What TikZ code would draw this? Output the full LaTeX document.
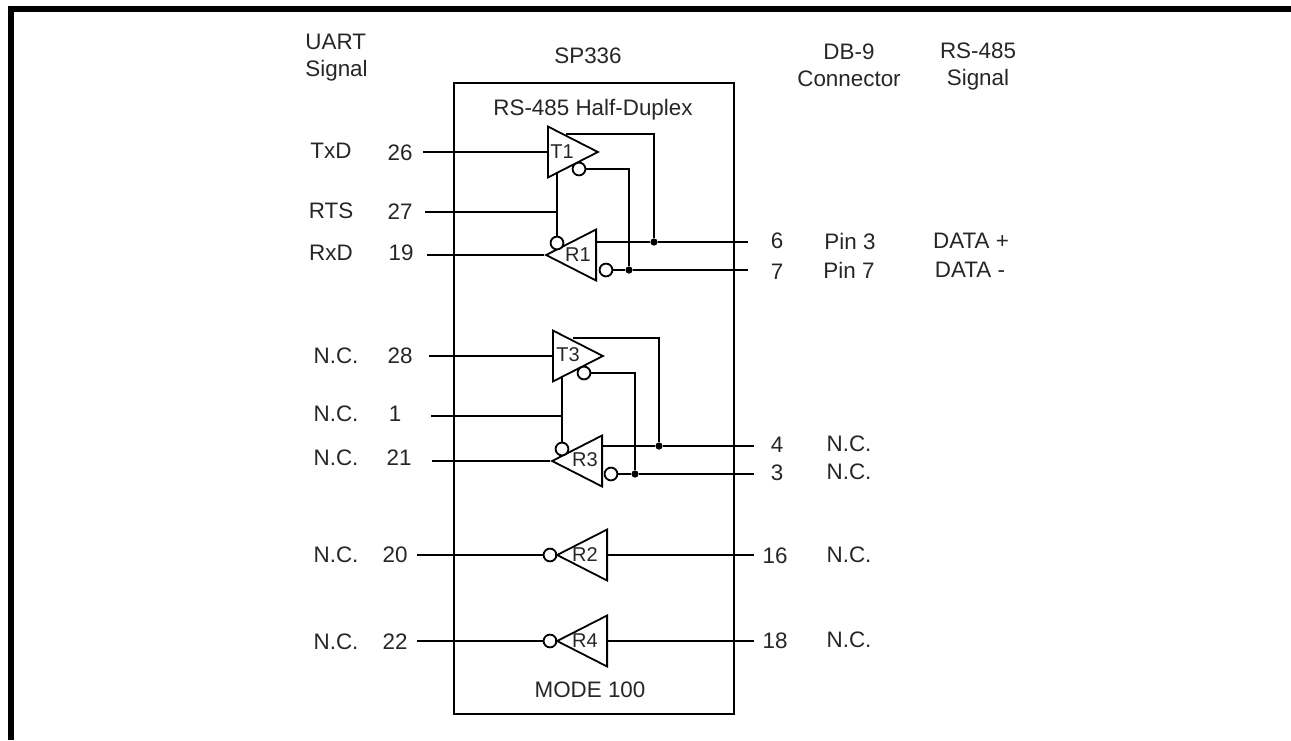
\documentclass[tikz,border=0pt]{standalone}
\usepackage{fontspec}
\setmainfont{Liberation Sans}
\usetikzlibrary{shapes.geometric}
\tikzset{
	lbl/.style = {inner sep = 0, text = black!85, font = \fontsize{11.2}{13.5}\selectfont, align = center},
	gatelbl/.style = {lbl, font = \fontsize{10}{12}\selectfont},
	wire/.style = {line width = 0.9pt},
	heavy/.style = {line width = 1.3pt},
	drvbase/.style = {draw, line width = 0.9pt, shape = isosceles triangle, isosceles triangle stretches,
		minimum width = 25.5pt, minimum height = 25pt, inner sep = 0, anchor = lower side},
	drvright/.style = {drvbase},
	drvleft/.style = {drvbase, shape border rotate = 180},
	bubble/.style = {draw, line width = 0.9pt, circle, fill = white, minimum size = 6.4pt, inner sep = 0},
	junction/.style = {circle, fill = black, minimum size = 3.6pt, inner sep = 0}
}
\begin{document}
\begin{tikzpicture}[x = 0.5pt, y = -0.5pt]
	%	page
	\useasboundingbox (0, 0) rectangle (1291, 740);
	\fill[black] (8, 6) rectangle (1291, 12);
	\fill[black] (8, 6) rectangle (14, 740);
	
	%	headings
	\node[lbl, align = left, anchor = west] (uart) at (305, 58) {UART\\Signal};
	\node[lbl] (sp) at (588, 56) {SP336};
	\node[lbl] (db) at (849, 65) {DB-9\\Connector};
	\node[lbl] (rs) at (978, 66) {RS-485\\Signal};
	
	%	chip
	\node[draw, wire, minimum width = 140pt, minimum height = 315.5pt, inner sep = 0] (chip) at (594, 398.5) {};
	\node[lbl] (half) at (593, 110) {RS-485 Half-Duplex};
	\node[lbl] (mode) at (590, 690) {MODE 100};
	
	%	left column
	\node[lbl] (txd) at (331, 151) {TxD};
	\node[lbl] (rts) at (331, 211) {RTS};
	\node[lbl] (rxd) at (331, 253) {RxD};
	\node[lbl] (nca) at (336, 356) {N.C.};
	\node[lbl] (ncb) at (336, 414) {N.C.};
	\node[lbl] (ncc) at (336, 458) {N.C.};
	\node[lbl] (ncd) at (336, 555) {N.C.};
	\node[lbl] (nce) at (336, 642) {N.C.};
	
	%	pin numbers, left
	\node[lbl] (p26) at (400, 153) {26};
	\node[lbl] (p27) at (400, 212) {27};
	\node[lbl] (p19) at (401, 253) {19};
	\node[lbl] (p28) at (400, 356) {28};
	\node[lbl] (p1) at (395, 414) {1};
	\node[lbl] (p21) at (399, 458) {21};
	\node[lbl] (p20) at (395, 555) {20};
	\node[lbl] (p22) at (395, 642) {22};
	
	%	pin numbers, right
	\node[lbl] (p6) at (777, 241) {6};
	\node[lbl] (p7) at (777, 272) {7};
	\node[lbl] (p4) at (777, 445) {4};
	\node[lbl] (p3) at (777, 473) {3};
	\node[lbl] (p16) at (775, 556) {16};
	\node[lbl] (p18) at (775, 641) {18};
	
	%	right column
	\node[lbl] (pina) at (850, 241) {Pin 3};
	\node[lbl] (pinb) at (849, 270) {Pin 7};
	\node[lbl] (datap) at (971, 241) {DATA +};
	\node[lbl] (datam) at (970, 270) {DATA -};
	\node[lbl] (ncf) at (849, 444) {N.C.};
	\node[lbl] (ncg) at (849, 472) {N.C.};
	\node[lbl] (nch) at (849, 555) {N.C.};
	\node[lbl] (nci) at (849, 640) {N.C.};
	
	%	drivers
	\node[drvright] (T1) at (547, 152) {};
	\node[drvleft] (R1) at (597, 255) {};
	\node[drvright] (T3) at (552, 356) {};
	\node[drvleft] (R3) at (603, 461) {};
	\node[drvleft] (R2) at (608, 555) {};
	\node[drvleft] (R4) at (608, 641) {};
	
	\node[gatelbl] (lT1) at (562, 152) {T1};
	\node[gatelbl] (lR1) at (578, 255) {R1};
	\node[gatelbl] (lT3) at (568, 355) {T3};
	\node[gatelbl] (lR3) at (585, 460) {R3};
	\node[gatelbl] (lR2) at (585, 555) {R2};
	\node[gatelbl] (lR4) at (585, 641) {R4};
	
	%	bubbles
	\node[bubble] (bT1) at (579, 169) {};
	\node[bubble] (bR1) at (606, 270) {};
	\node[bubble] (eR1) at (557, 243) {};
	\node[bubble] (bT3) at (584, 373) {};
	\node[bubble] (bR3) at (611, 474) {};
	\node[bubble] (eR3) at (562, 449) {};
	\node[bubble] (bR2) at (550, 555) {};
	\node[bubble] (bR4) at (550, 641) {};
	
	%	junctions
	\node[junction] (j6) at (654, 242) {};
	\node[junction] (j7) at (629, 270) {};
	\node[junction] (j4) at (659, 446) {};
	\node[junction] (j3) at (635, 474) {};
	
	%	free ends
	\coordinate (e26) at (423, 152);
	\coordinate (e27) at (425, 212);
	\coordinate (e19) at (427, 255);
	\coordinate (e28) at (429, 356);
	\coordinate (e1) at (431, 416);
	\coordinate (e21) at (432, 461);
	\coordinate (e20) at (417, 555);
	\coordinate (e22) at (417, 641);
	\coordinate (e6) at (748, 242);
	\coordinate (e7) at (748, 270);
	\coordinate (e4) at (754, 446);
	\coordinate (e3) at (754, 474);
	\coordinate (e16) at (754, 555);
	\coordinate (e18) at (754, 641);
	\coordinate (qT1) at (566, 134);
	\coordinate (qT3) at (573, 338);
	\coordinate (oR1) at (597, 242);
	\coordinate (oR3) at (603, 446);
	\coordinate (nT1) at (557, 173);
	\coordinate (nT3) at (562, 377);
	\coordinate (t27) at (557, 212);
	\coordinate (t1) at (562, 416);
	
	%	connectors
	\draw[wire] (e26) -- (T1.lower side);
	\draw[wire] (e27) -- (t27);
	\draw[wire] (e19) -- (R1.apex);
	\draw[wire] (nT1) -- (eR1);
	\draw[wire] (qT1) -| (j6);
	\draw[wire] (bT1) -| (j7);
	\draw[wire] (oR1) -- (j6) -- (e6);
	\draw[wire] (bR1) -- (j7) -- (e7);
	
	\draw[wire] (e28) -- (T3.lower side);
	\draw[wire] (e1) -- (t1);
	\draw[wire] (e21) -- (R3.apex);
	\draw[wire] (nT3) -- (eR3);
	\draw[wire] (qT3) -| (j4);
	\draw[wire] (bT3) -| (j3);
	\draw[wire] (oR3) -- (j4) -- (e4);
	\draw[wire] (bR3) -- (j3) -- (e3);
	
	\draw[heavy] (e20) -- (bR2);
	\draw[heavy] (R2.lower side) -- (e16);
	\draw[heavy] (e22) -- (bR4);
	\draw[wire] (R4.lower side) -- (e18);
	\draw[wire] (bR2) -- (R2.apex);
	\draw[wire] (bR4) -- (R4.apex);
\end{tikzpicture}
\end{document}
